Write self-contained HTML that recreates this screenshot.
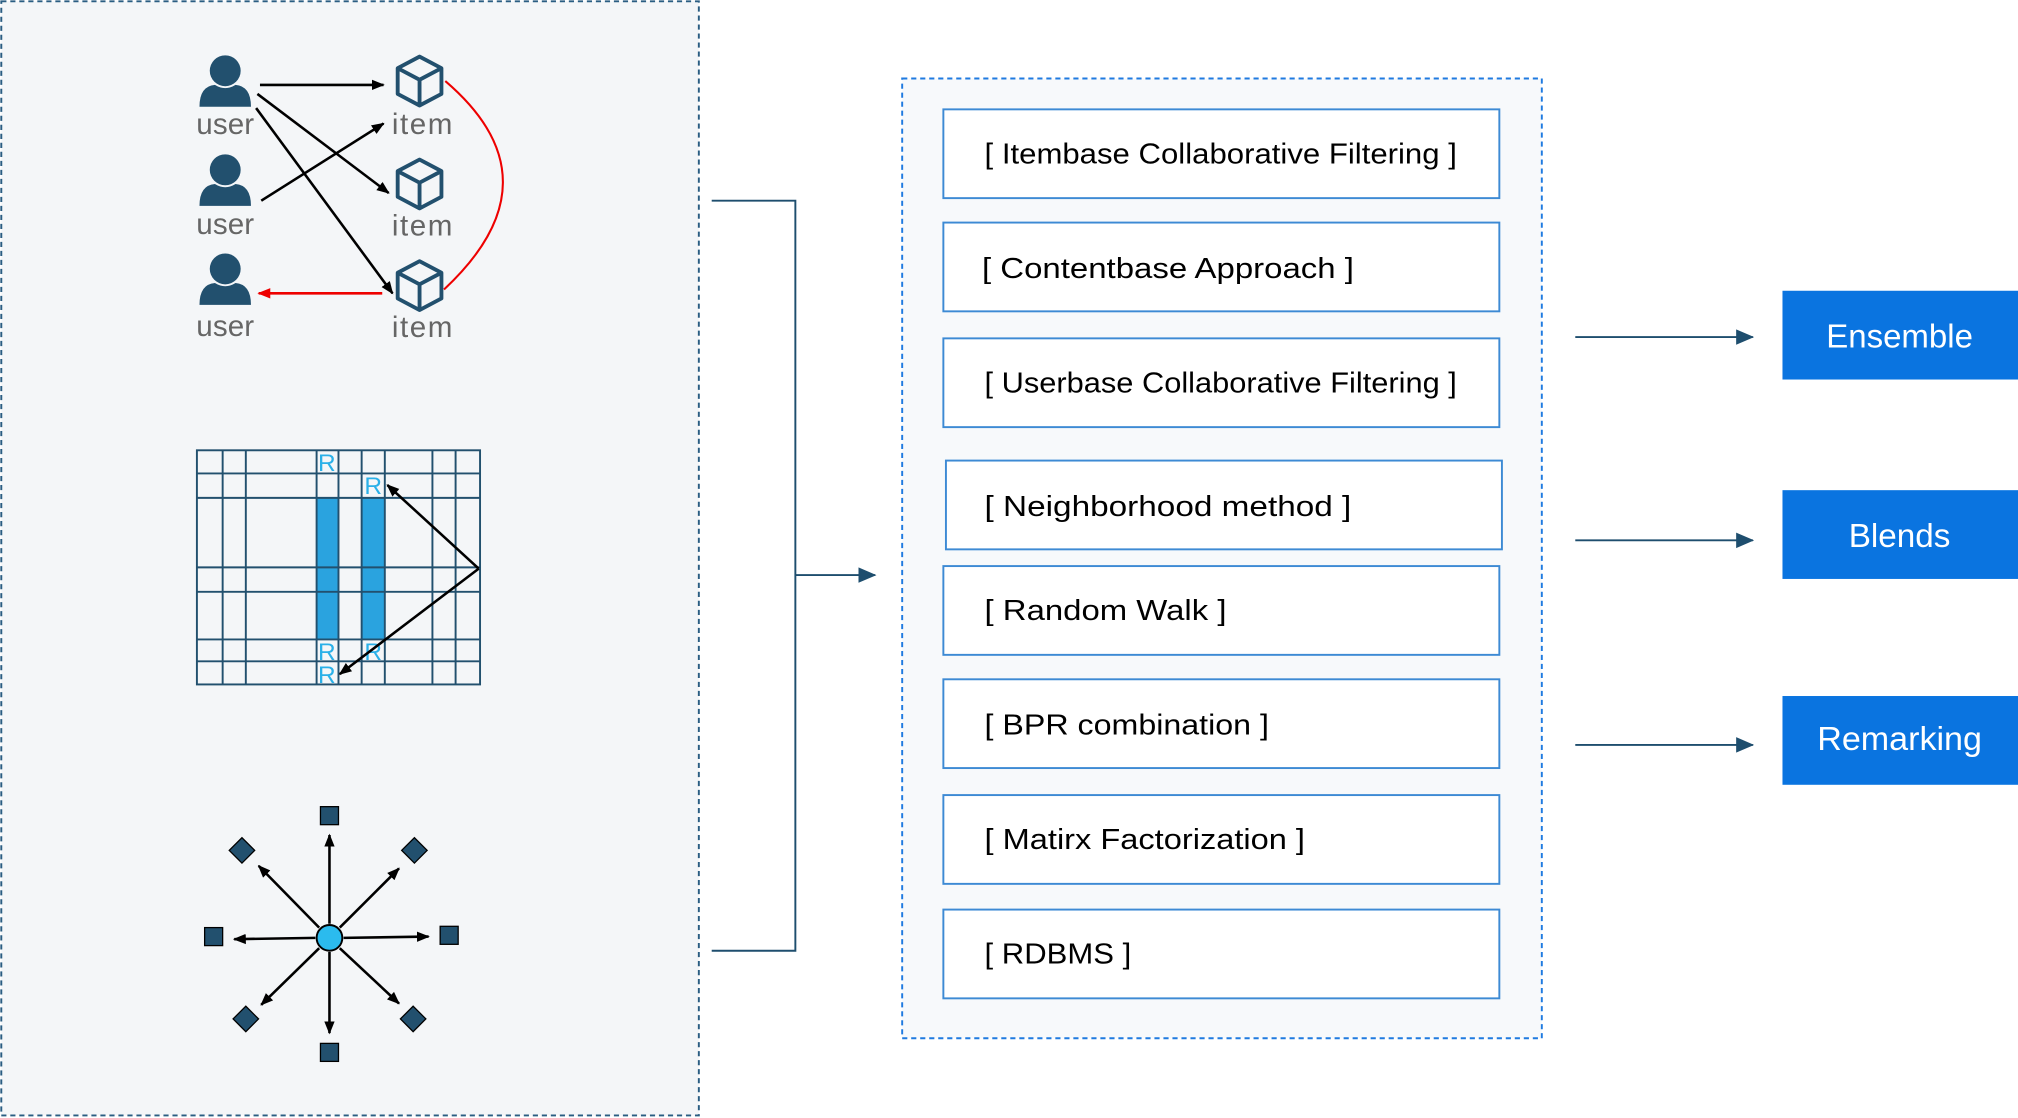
<!DOCTYPE html>
<html><head><meta charset="utf-8"><style>
html,body{margin:0;padding:0;background:#fff}
svg{display:block}
text{font-family:"Liberation Sans",sans-serif}
</style></head><body>
<svg width="2018" height="1118" viewBox="0 0 1568 869" preserveAspectRatio="none" xmlns="http://www.w3.org/2000/svg">
<defs>
<marker id="ab" markerWidth="10" markerHeight="10" refX="9" refY="5" orient="auto" markerUnits="userSpaceOnUse"><path d="M0,1 L10,5 L0,9 Z" fill="#000"/></marker>
<marker id="ar" markerWidth="10" markerHeight="10" refX="9" refY="5" orient="auto" markerUnits="userSpaceOnUse"><path d="M0,1 L10,5 L0,9 Z" fill="#e00"/></marker>
<marker id="an" markerWidth="14" markerHeight="14" refX="13" refY="7" orient="auto" markerUnits="userSpaceOnUse"><path d="M0,1 L14,7 L0,13 Z" fill="#1e4e6e"/></marker>
<g id="user"><circle cx="0" cy="-8" r="12" fill="#22506e"/><path d="M-20,20 Q-20,4 -8,3 Q0,8 8,3 Q20,4 20,20 Z" fill="#22506e"/></g>
<g id="cube" fill="none" stroke="#22506e" stroke-width="3" stroke-linejoin="round"><path d="M0,-19 L17,-10 L17,10 L0,19 L-17,10 L-17,-10 Z M-17,-10 L0,-1 L17,-10 M0,-1 L0,19"/></g>
</defs>
<rect x="1" y="1" width="542" height="866" fill="#f4f6f8" stroke="#2a5d82" stroke-width="1.5" stroke-dasharray="4,3"/>
<use href="#user" x="175" y="63"/><use href="#user" x="175" y="140"/><use href="#user" x="175" y="217"/>
<g font-size="23" fill="#666" text-anchor="middle"><text x="175" y="104" textLength="45">user</text><text x="175" y="182" textLength="45">user</text><text x="175" y="261" textLength="45">user</text>
<text x="328" y="104" textLength="47">item</text><text x="328" y="183" textLength="47">item</text><text x="328" y="262" textLength="47">item</text></g>
<use href="#cube" x="326" y="63"/><use href="#cube" x="326" y="143"/><use href="#cube" x="326" y="222"/>
<g stroke="#000" stroke-width="2" fill="none" marker-end="url(#ab)">
<line x1="202" y1="66" x2="298" y2="66"/>
<line x1="203" y1="156" x2="298" y2="96"/>
<line x1="200" y1="73" x2="302" y2="150"/>
<line x1="199" y1="84" x2="305" y2="228"/>
</g>
<line x1="297" y1="228" x2="201" y2="228" stroke="#e00" stroke-width="2" marker-end="url(#ar)"/>
<path d="M346,63 Q436,140 345,225" stroke="#e00" stroke-width="1.6" fill="none"/>
<rect x="246" y="387" width="17" height="110" fill="#2aa3df"/><rect x="281" y="387" width="18" height="110" fill="#2aa3df"/>
<g stroke="#22506e" stroke-width="1.5" fill="none">
<rect x="153" y="350" width="220" height="182"/>
<path d="M173,350V532M191,350V532M246,350V532M263,350V532M281,350V532M299,350V532M336,350V532M354,350V532
M153,368H373M153,387H373M153,441H373M153,460H373M153,497H373M153,514H373"/>
</g>
<g font-size="19" fill="#2ab0e8" text-anchor="middle"><text x="254" y="366">R</text><text x="290" y="384">R</text><text x="254" y="513">R</text><text x="290" y="513">R</text><text x="254" y="531">R</text></g>
<g stroke="#000" stroke-width="2" marker-end="url(#ab)"><line x1="372" y1="442" x2="301" y2="377"/><line x1="372" y1="442" x2="264" y2="524"/></g>
<g stroke="#000" stroke-width="2" marker-end="url(#ab)">
<line x1="256" y1="718" x2="256" y2="649"/><line x1="256" y1="740" x2="256" y2="803"/>
<line x1="245" y1="729" x2="182" y2="730"/><line x1="267" y1="729" x2="333" y2="728"/>
<line x1="248" y1="721" x2="201" y2="673"/><line x1="264" y1="721" x2="310" y2="675"/>
<line x1="248" y1="737" x2="203" y2="781"/><line x1="264" y1="737" x2="310" y2="780"/>
</g>
<circle cx="256" cy="729" r="10" fill="#2bbbee" stroke="#000" stroke-width="1.5"/>
<g fill="#22506e" stroke="#000" stroke-width="1">
<rect x="249" y="627" width="14" height="14"/><rect x="249" y="811" width="14" height="14"/>
<rect x="159" y="721" width="14" height="14"/><rect x="342" y="720" width="14" height="14"/>
<rect x="181" y="654" width="14" height="14" transform="rotate(45 188 661)"/>
<rect x="315" y="654" width="14" height="14" transform="rotate(45 322 661)"/>
<rect x="184" y="785" width="14" height="14" transform="rotate(45 191 792)"/>
<rect x="314" y="785" width="14" height="14" transform="rotate(45 321 792)"/>
</g>
<path d="M553,156H618V739H553" stroke="#1e4e6e" stroke-width="1.5" fill="none"/>
<line x1="618" y1="447" x2="680" y2="447" stroke="#1e4e6e" stroke-width="1.5" marker-end="url(#an)"/>
<rect x="701" y="61" width="497" height="746" fill="#f7f9fb" stroke="#1f7ae0" stroke-width="1.5" stroke-dasharray="4,3"/>
<g fill="#fff" stroke="#3d8ad4" stroke-width="1.5">
<rect x="733" y="85" width="432" height="69"/><rect x="733" y="173" width="432" height="69"/>
<rect x="733" y="263" width="432" height="69"/><rect x="735" y="358" width="432" height="69"/>
<rect x="733" y="440" width="432" height="69"/><rect x="733" y="528" width="432" height="69"/>
<rect x="733" y="618" width="432" height="69"/><rect x="733" y="707" width="432" height="69"/>
</g>
<g font-size="22" fill="#000" lengthAdjust="spacingAndGlyphs">
<text x="765" y="127" textLength="367" lengthAdjust="spacingAndGlyphs">[ Itembase Collaborative Filtering ]</text>
<text x="763" y="216" textLength="289" lengthAdjust="spacingAndGlyphs">[ Contentbase   Approach ]</text>
<text x="765" y="305" textLength="367" lengthAdjust="spacingAndGlyphs">[ Userbase Collaborative Filtering ]</text>
<text x="765" y="401" textLength="285" lengthAdjust="spacingAndGlyphs">[ Neighborhood  method ]</text>
<text x="765" y="482" textLength="188" lengthAdjust="spacingAndGlyphs">[ Random  Walk ]</text>
<text x="765" y="571" textLength="221" lengthAdjust="spacingAndGlyphs">[ BPR  combination ]</text>
<text x="765" y="660" textLength="249" lengthAdjust="spacingAndGlyphs">[ Matirx  Factorization ]</text>
<text x="765" y="749" textLength="114" lengthAdjust="spacingAndGlyphs">[ RDBMS ]</text>
</g>
<g stroke="#1e4e6e" stroke-width="1.5" marker-end="url(#an)">
<line x1="1224" y1="262" x2="1362" y2="262"/><line x1="1224" y1="420" x2="1362" y2="420"/><line x1="1224" y1="579" x2="1362" y2="579"/>
</g>
<g fill="#0a74e0"><rect x="1385" y="226" width="183" height="69"/><rect x="1385" y="381" width="183" height="69"/><rect x="1385" y="541" width="183" height="69"/></g>
<g font-size="26" fill="#fff" text-anchor="middle"><text x="1476" y="270" textLength="114" lengthAdjust="spacingAndGlyphs">Ensemble</text><text x="1476" y="425" textLength="79" lengthAdjust="spacingAndGlyphs">Blends</text><text x="1476" y="583" textLength="128" lengthAdjust="spacingAndGlyphs">Remarking</text></g>
</svg>
</body></html>
